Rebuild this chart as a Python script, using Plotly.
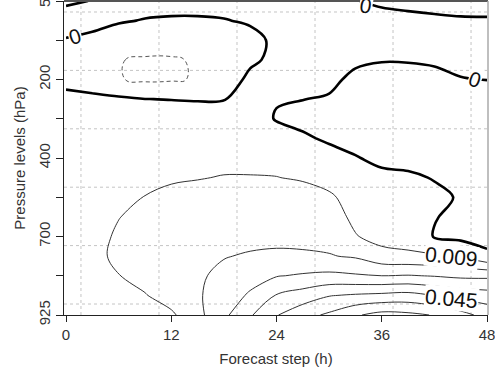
import numpy as np
import plotly.graph_objects as go

# ---- data ----
steps = [0, 3, 6, 9, 12, 15, 18, 21, 24, 27, 30, 33, 36, 39, 42, 45, 48]
level_pos = [0, 0.5, 1, 1.5, 2, 2.5, 3, 3.5, 4, 4.5, 5, 5.5, 6, 6.5, 7, 7.5, 8]
level_ticks = [0, 1, 2, 3, 4, 5, 6, 7, 8]
level_labels = ["50", "", "200", "", "400", "", "700", "", "925"]
step_ticks = [0, 12, 24, 36, 48]

# vertical profiles (top -> bottom) for each forecast step
p00 = [-0.0015, 0.0045, -0.0006, -0.004, -0.003, 0.0028, 0.004, 0.004, 0.004, 0.005, 0.005, 0.006, 0.006, 0.006, 0.006, 0.005, 0.004]
p03 = [0.0003, 0.002, -0.0015, -0.005, -0.004, 0.0017, 0.004, 0.005, 0.005, 0.006, 0.006, 0.0065, 0.0065, 0.007, 0.0075, 0.007, 0.006]
p06 = [0.004, 0.001, -0.006, -0.0088, -0.0086, 0.0013, 0.004, 0.005, 0.006, 0.007, 0.008, 0.0088, 0.010, 0.0105, 0.0088, 0.008, 0.007]
p09 = [0.004, -0.0005, -0.006, -0.0096, -0.0102, 0.0001, 0.004, 0.006, 0.007, 0.008, 0.0091, 0.011, 0.013, 0.0135, 0.012, 0.0085, 0.007]
p12 = [0.005, -0.0015, -0.006, -0.0096, -0.0098, -0.0002, 0.004, 0.006, 0.0075, 0.0085, 0.010, 0.012, 0.014, 0.0155, 0.016, 0.013, 0.0075]
p15 = [0.005, -0.0015, -0.006, -0.0084, -0.0084, -0.0005, 0.004, 0.006, 0.0075, 0.0088, 0.0105, 0.012, 0.014, 0.016, 0.0165, 0.0168, 0.0155]
p18 = [0.004, -0.0005, -0.005, -0.006, -0.005, -0.0003, 0.004, 0.006, 0.0078, 0.0092, 0.011, 0.013, 0.015, 0.0175, 0.0205, 0.023, 0.025]
p21 = [0.004, 0.0012, -0.003, -0.0015, 0.002, 0.003, 0.0045, 0.006, 0.0078, 0.0092, 0.011, 0.013, 0.015, 0.019, 0.024, 0.028, 0.035]
p24 = [0.004, 0.003, 0.002, 0.002, 0.0015, 0.0005, -0.0006, 0.004, 0.0075, 0.0091, 0.011, 0.013, 0.015, 0.020, 0.0265, 0.0365, 0.0445]
p27 = [0.004, 0.003, 0.0025, 0.002, 0.0012, 0.0001, -0.0015, 0.0008, 0.005, 0.0085, 0.011, 0.013, 0.016, 0.019, 0.028, 0.040, 0.051]
p30 = [0.004, 0.003, 0.002, 0.0015, 0.002, -0.0008, -0.003, -0.0008, 0.002, 0.0055, 0.0105, 0.013, 0.015, 0.0185, 0.029, 0.0445, 0.0555]
p33 = [0.0002, 0.002, 0.002, 0.0015, -0.002, -0.004, -0.004, -0.003, 0.0005, 0.003, 0.005, 0.007, 0.0095, 0.017, 0.028, 0.046, 0.062]
p36 = [-0.001, 0.002, 0.002, 0.0004, -0.003, -0.005, -0.006, -0.005, -0.002, 0.002, 0.004, 0.005, 0.006, 0.012, 0.027, 0.047, 0.066]
p39 = [-0.0018, 0.0017, 0.002, 0.0005, -0.003, -0.006, -0.007, -0.006, -0.003, 0.0015, 0.003, 0.004, 0.0045, 0.011, 0.0275, 0.048, 0.065]
p42 = [-0.002, 0.001, 0.0015, 0.001, -0.002, -0.006, -0.007, -0.006, -0.004, -0.0005, 0.002, 0.0004, -0.0005, 0.010, 0.0265, 0.0448, 0.0625]
p45 = [-0.0022, 0.0006, 0.0015, 0.0012, -0.0002, -0.004, -0.006, -0.005, -0.003, -0.001, -0.0008, -0.002, -0.002, 0.0075, 0.025, 0.042, 0.057]
p48 = [-0.0025, 0.0006, 0.0015, 0.0014, 0.0001, -0.003, -0.005, -0.005, -0.004, -0.0035, -0.003, -0.003, -0.0025, 0.0015, 0.025, 0.040, 0.051]

profiles = [p00, p03, p06, p09, p12, p15, p18, p21, p24, p27, p30, p33, p36, p39, p42, p45, p48]
z = np.array(profiles).T  # rows = levels, cols = steps

pos_start, pos_end, pos_step = 0.009, 0.072, 0.009
neg_level = -0.009

# contour labels: (text, step, level position, angle)
labels = [
    ("0", 1.0, 0.9, -17),
    ("0", 34.2, 0.11, 9),
    ("0", 46.6, 2.0, 18),
    ("0.009", 44.0, 6.52, 6),
    ("0.045", 44.0, 7.59, 5),
]

FONT = "Liberation Sans, Arial, Helvetica, sans-serif"

fig = go.Figure()

fig.add_trace(go.Contour(
    x=steps, y=level_pos, z=z, autocontour=False,
    contours=dict(coloring="none", start=pos_start, end=pos_end, size=pos_step),
    line=dict(color="#333333", width=1, smoothing=1),
    showscale=False, hoverinfo="skip"))

fig.add_trace(go.Contour(
    x=steps, y=level_pos, z=z, autocontour=False,
    contours=dict(coloring="none", start=neg_level, end=neg_level, size=1),
    line=dict(color="#555555", width=1, dash="4px,3px", smoothing=1.3),
    showscale=False, hoverinfo="skip"))

fig.add_trace(go.Contour(
    x=steps, y=level_pos, z=z, autocontour=False,
    contours=dict(coloring="none", start=0, end=0, size=1),
    line=dict(color="#000000", width=2.6, smoothing=1),
    showscale=False, hoverinfo="skip"))

shapes = []
for k in range(6):
    xp = 0.040 + k * 0.184
    shapes.append(dict(type="line", xref="paper", yref="paper", x0=xp, x1=xp, y0=0, y1=1,
                       line=dict(color="#c4c4c4", width=1, dash="dot"), layer="below"))
    yp = 0.035 + k * 0.186
    shapes.append(dict(type="line", xref="paper", yref="paper", x0=0, x1=1, y0=yp, y1=yp,
                       line=dict(color="#c4c4c4", width=1, dash="dot"), layer="below"))
shapes.append(dict(type="line", xref="paper", yref="paper", x0=0, x1=1, y0=1, y1=1,
                   line=dict(color="#555555", width=2)))
shapes.append(dict(type="line", xref="paper", yref="paper", x0=1, x1=1, y0=0, y1=1,
                   line=dict(color="#aaaaaa", width=1.5)))

annotations = []
for txt, sx, ly, ang in labels:
    annotations.append(dict(x=sx, y=ly, xref="x", yref="y", text=txt, showarrow=False,
                            textangle=ang, bgcolor="white", borderpad=0,
                            font=dict(family=FONT, size=21, color="#111111")))

fig.update_layout(
    width=495, height=368,
    margin=dict(l=64, r=7, t=1, b=53, autoexpand=False),
    paper_bgcolor="white", plot_bgcolor="white",
    showlegend=False,
    font=dict(family=FONT, size=15, color="#333333"),
    shapes=shapes, annotations=annotations,
    xaxis=dict(range=[-0.23, 48.11], tickvals=step_ticks, ticks="outside", ticklen=6,
               tickcolor="#222222", showline=True, linecolor="#222222", linewidth=1.2,
               showgrid=False, zeroline=False, ticklabeloverflow="allow", automargin=False,
               tickfont=dict(size=15, color="#333333"),
               title=dict(text="Forecast step (h)", font=dict(size=15, color="#333333"), standoff=11)),
    yaxis=dict(range=[8, 0], tickvals=level_ticks, ticktext=level_labels, tickangle=-90,
               ticks="outside", ticklen=7, tickcolor="#222222",
               showline=True, linecolor="#222222", linewidth=1.2,
               showgrid=False, zeroline=False, ticklabeloverflow="allow", automargin=False,
               tickfont=dict(size=15, color="#333333"),
               title=dict(text="Pressure levels (hPa)", font=dict(size=15, color="#333333"), standoff=6)),
)

fig.write_html("out.html")
